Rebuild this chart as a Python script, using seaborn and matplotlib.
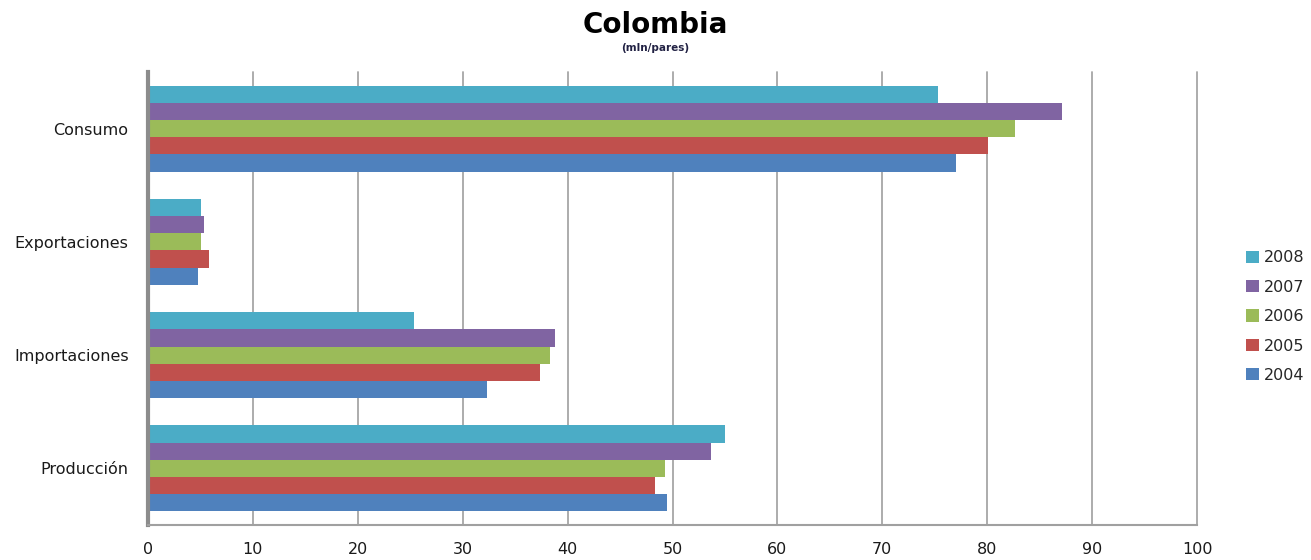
import pandas as pd
import numpy as np
import matplotlib.pyplot as plt
import seaborn as sns

categorias = ['Consumo', 'Exportaciones', 'Importaciones', 'Producción']
anios = ['2008', '2007', '2006', '2005', '2004']
v2008 = [75.3, 5.05, 25.4, 55.0]
v2007 = [87.1, 5.3, 38.8, 53.7]
v2006 = [82.6, 5.05, 38.3, 49.3]
v2005 = [80.1, 5.8, 37.4, 48.3]
v2004 = [77.0, 4.8, 32.3, 49.5]
colores = ['#4BACC6', '#8064A2', '#9BBB59', '#C0504D', '#4F81BD']

filas = []
for anio, vals in zip(anios, [v2008, v2007, v2006, v2005, v2004]):
    for cat, v in zip(categorias, vals):
        filas.append({'Categoria': cat, 'Anio': anio, 'Valor': v})
df = pd.DataFrame(filas)

sns.set_style('white')
plt.rcParams['font.family'] = ['DejaVu Sans']

fig = plt.figure(figsize=(13.11, 5.6), dpi=100)
ax = fig.add_axes([0.1129, 0.0625, 0.8002, 0.8089])

sns.barplot(data=df, x='Valor', y='Categoria', hue='Anio', order=categorias,
            hue_order=anios, palette=colores, orient='h', width=0.76,
            saturation=1, edgecolor='none', ax=ax, errorbar=None)

ax.set_xlim(0, 100)
ax.set_ylim(3.5, -0.5)
ax.set_xticks(np.arange(0, 101, 10))
ax.xaxis.grid(True, color='#a6a6a6', linewidth=1.3)
for gl in ax.get_xgridlines():
    gl.set_clip_on(False)
ax.set_axisbelow(True)
ax.set_xlabel('')
ax.set_ylabel('')
ax.tick_params(axis='x', length=0, pad=12, labelsize=11.5, labelcolor='#1a1a1a')
ax.tick_params(axis='y', length=0, pad=14, labelsize=11.5, labelcolor='#1a1a1a')

for s in ['top', 'right']:
    ax.spines[s].set_visible(False)
ax.spines['left'].set_color('#8c8c8c')
ax.spines['left'].set_linewidth(3)
ax.spines['bottom'].set_color('#a0a0a0')
ax.spines['bottom'].set_linewidth(1.5)

handles, labels = ax.get_legend_handles_labels()
ax.get_legend().remove()
ax.legend(handles, labels, loc='center left', bbox_to_anchor=(1.033, 0.46),
          frameon=False, handlelength=0.8, handleheight=0.8, handletextpad=0.3,
          labelspacing=0.9, fontsize=11.5)

fig.text(0.4996, 0.955, 'Colombia', ha='center', va='center', fontsize=20,
         fontweight='bold', color='black')
fig.text(0.4996, 0.915, '(mln/pares)', ha='center', va='center', fontsize=7.5,
         fontweight='bold', color='#222244')

fig.savefig('out.png', dpi=100)
